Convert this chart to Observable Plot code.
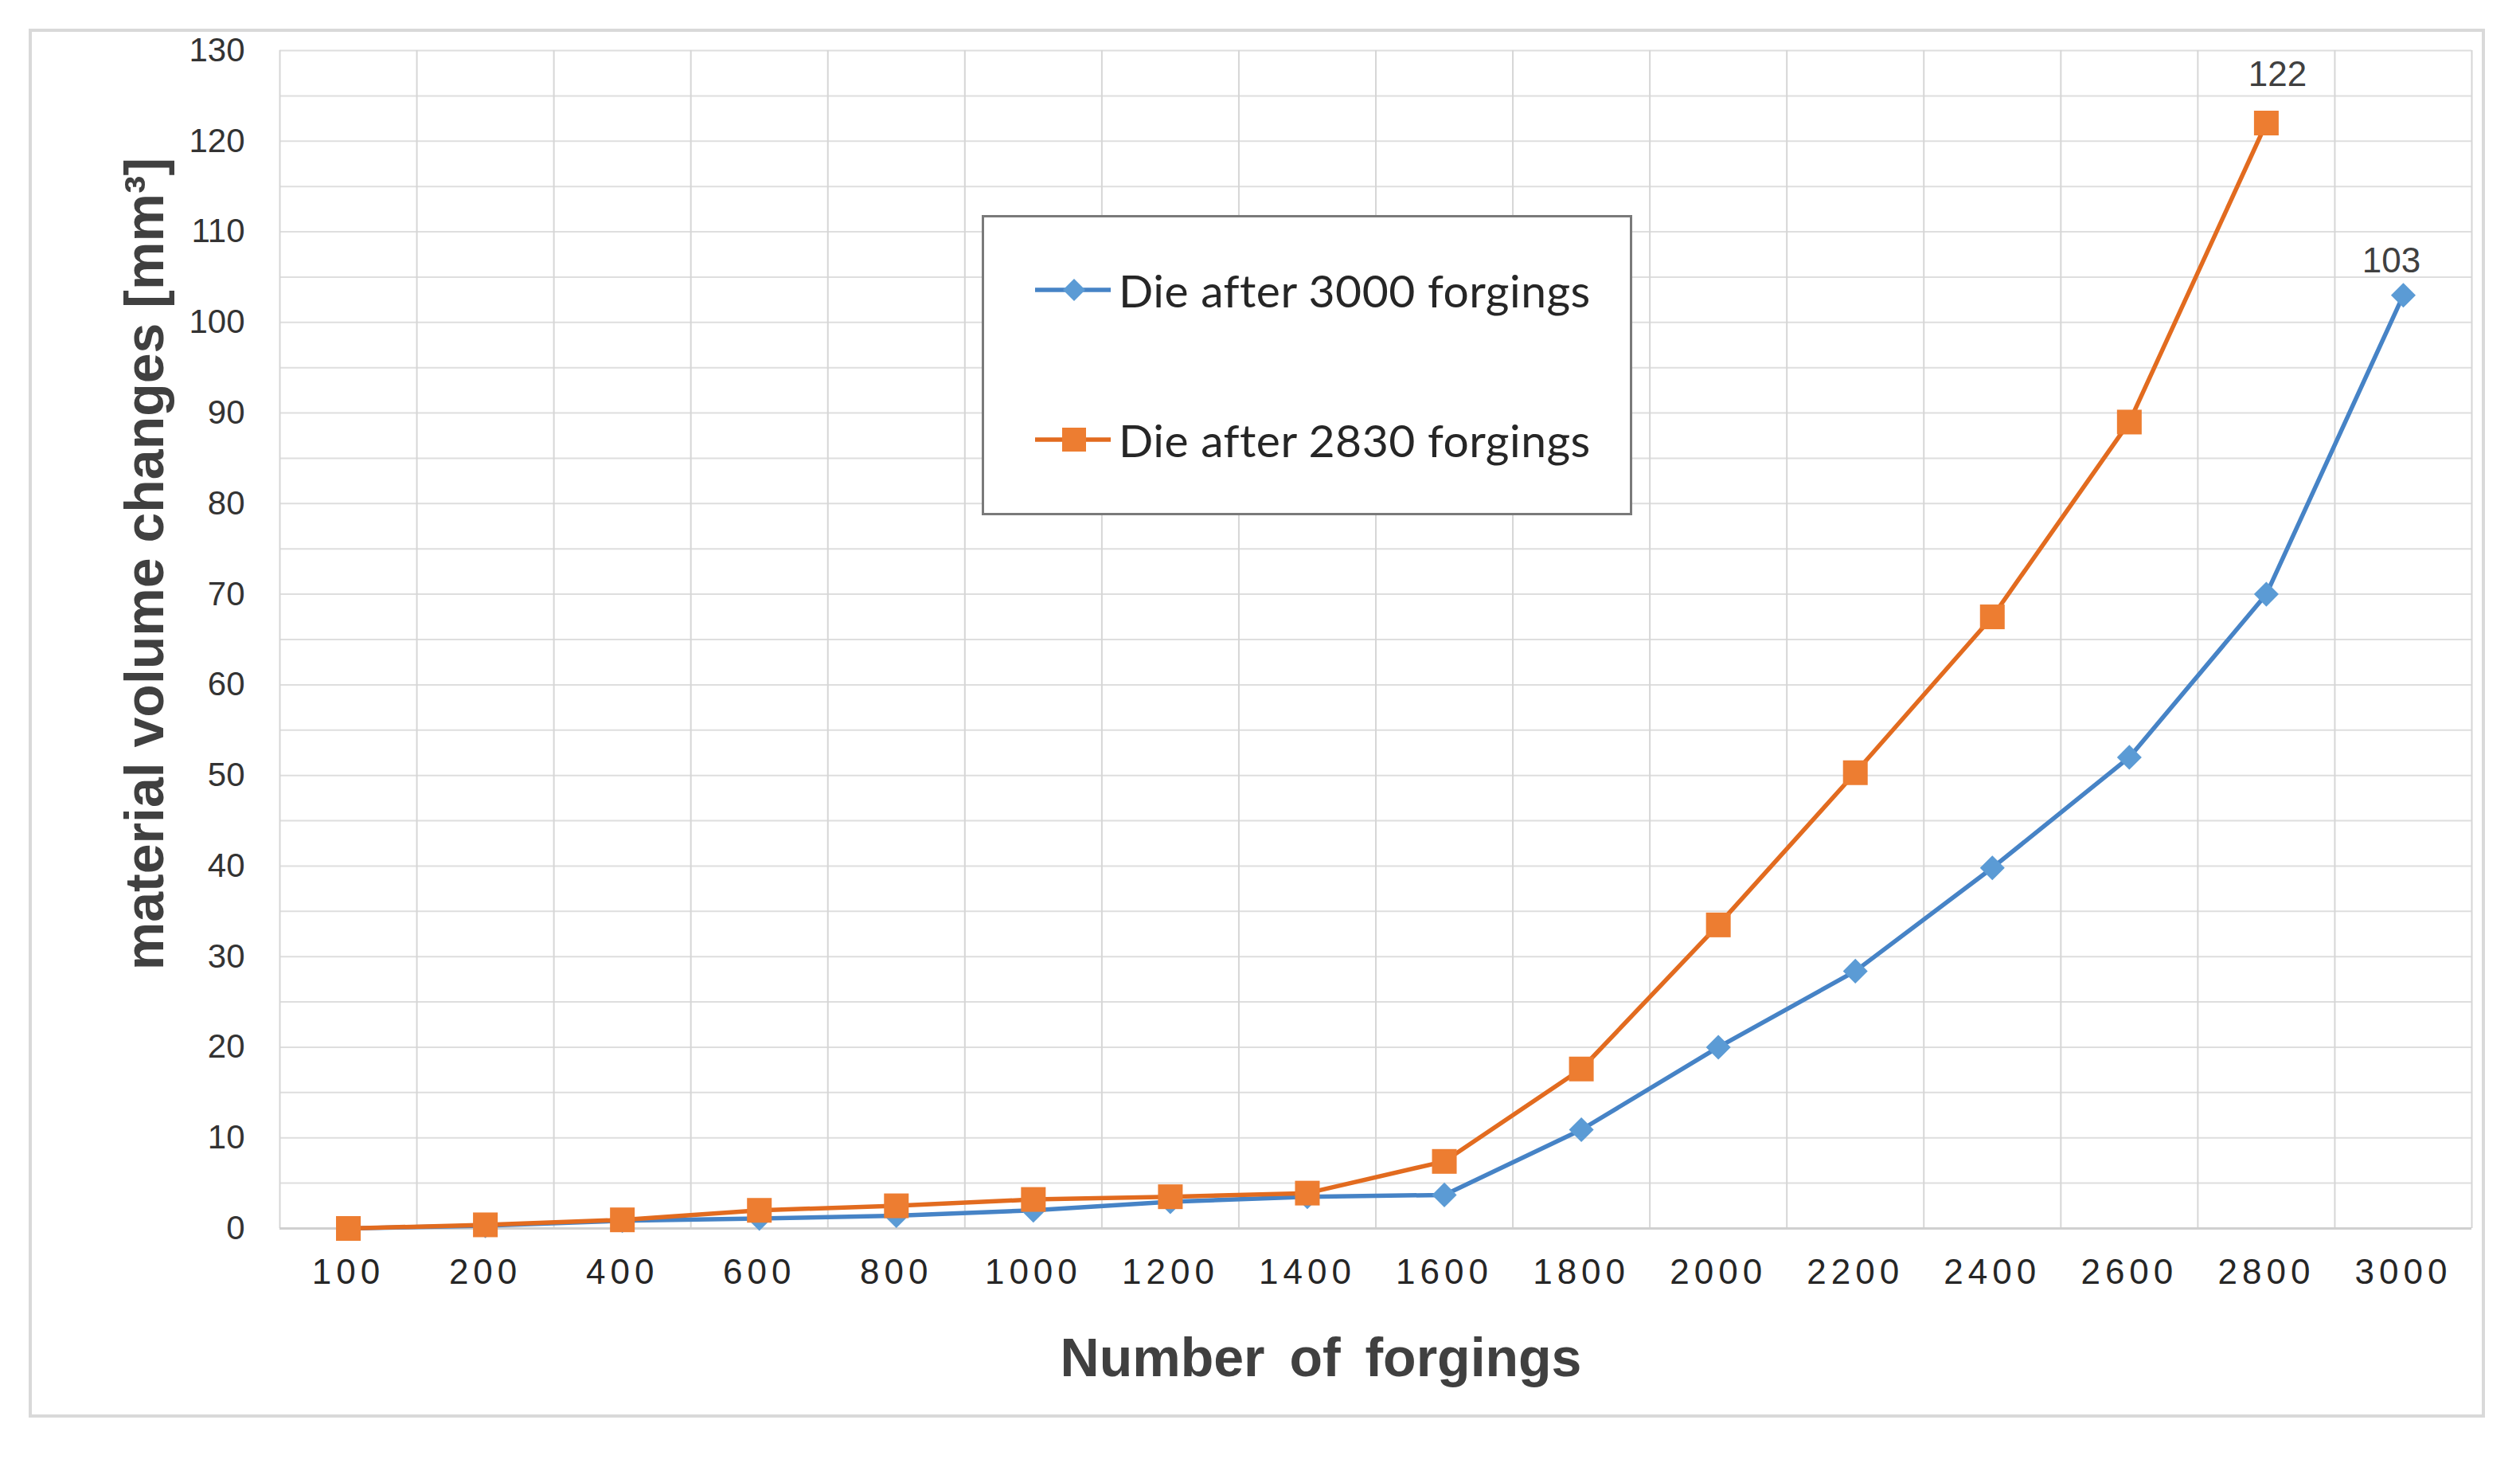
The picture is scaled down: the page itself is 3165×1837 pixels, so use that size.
<!DOCTYPE html>
<html>
<head>
<meta charset="utf-8">
<script src="https://cdn.jsdelivr.net/npm/d3@7"></script>
<script src="https://cdn.jsdelivr.net/npm/@observablehq/plot@0.6"></script>
<style>
  html, body { margin: 0; padding: 0; background: #ffffff; }
  #page { position: relative; width: 3165px; height: 1837px; overflow: hidden; background: #fff; }
  #frame { position: absolute; left: 36px; top: 36px; width: 3085px; height: 1744px; box-sizing: border-box;
           border: 4px solid #d9d9d9; }
  #chart { position: absolute; left: 0; top: 0; }
  #chart svg g[aria-label="x-axis tick label"] text { letter-spacing: 6px; }
  .title { position: absolute; font-family: "Liberation Sans", Arial, sans-serif; font-weight: bold; color: #404040; white-space: pre; line-height: 1; }
  #ytitle { left: 181px; top: 708px; font-size: 68px; transform: translate(-50%, -50%) rotate(-90deg); }
  #xtitle { left: 1659px; top: 1670px; font-size: 68px; transform: translateX(-50%); word-spacing: 12px; }
  #legend { position: absolute; left: 1233px; top: 270px; width: 817px; height: 377px; box-sizing: border-box;
            border: 3px solid #7a7a7a; background: #fff; }
  .entry { position: absolute; left: 64px; height: 60px; display: flex; align-items: center; }
  .entry span { font-family: Lato, "Open Sans", sans-serif; font-size: 57px; letter-spacing: 0.5px; color: #262626; margin-left: 10px; white-space: nowrap; }
</style>
</head>
<body>
<div id="page">
  <div id="frame"></div>
  <div id="chart"></div>
  <div id="ytitle" class="title">material volume changes [mm³]</div>
  <div id="xtitle" class="title">Number of forgings</div>
  <div id="legend"></div>
</div>
<script>
// ---- data ----
const categories = ["100","200","400","600","800","1000","1200","1400","1600","1800","2000","2200","2400","2600","2800","3000"];
const die3000 = [0, 0.3, 0.85, 1.1, 1.4, 2.0, 2.95, 3.5, 3.7, 10.9, 20.0, 28.4, 39.8, 52.0, 70.0, 103];
const die2830 = [0, 0.4, 0.95, 2.0, 2.5, 3.2, 3.5, 3.9, 7.4, 17.6, 33.5, 50.3, 67.5, 89.0, 122, null];
const seriesNames = ["Die after 3000 forgings", "Die after 2830 forgings"];
const yTickValues = d3.range(0, 131, 10);
const yGridValues = d3.range(0, 131, 5);

const lineColors = ["#4683c6", "#e26b1f"];
const markerColors = ["#5b9bd5", "#ed7d31"];

// ---- build tables ----
const toRows = (vals, s) => vals.map((v, i) => ({pos: i + 0.5, cat: categories[i], value: v, series: s}))
                                .filter(d => d.value != null);
const rows3000 = toRows(die3000, seriesNames[0]);
const rows2830 = toRows(die2830, seriesNames[1]);
const last3000 = [rows3000[rows3000.length - 1]];
const last2830 = [rows2830[rows2830.length - 1]];
const xTickPositions = categories.map((c, i) => i + 0.5);
const xBoundaries = d3.range(0, categories.length + 1);

const chart = Plot.plot({
  width: 3165,
  height: 1837,
  marginTop: 63,
  marginBottom: 295,
  marginLeft: 351,
  marginRight: 61,
  style: {background: "transparent", fontFamily: "'Liberation Sans', Arial, sans-serif", overflow: "visible"},
  x: {type: "linear", domain: [0, categories.length], nice: false},
  y: {domain: [0, 130], nice: false},
  marks: [
    Plot.gridY(yGridValues, {stroke: "#dedede", strokeOpacity: 1, strokeWidth: 2}),
    Plot.gridX(xBoundaries, {stroke: "#d6d6d6", strokeOpacity: 1, strokeWidth: 2}),
    Plot.ruleY([0], {stroke: "#d0d0d0", strokeWidth: 3}),
    Plot.axisY(yTickValues, {tickSize: 0, tickPadding: 44, fontSize: 42, fill: "#333", label: null}),
    Plot.axisX(xTickPositions, {tickSize: 0, tickPadding: 38, fontSize: 44, fill: "#262626", label: null,
      tickFormat: d => categories[Math.floor(d)]}),
    Plot.line(rows3000, {x: "pos", y: "value", stroke: lineColors[0], strokeWidth: 5.5}),
    Plot.dot(rows3000, {x: "pos", y: "value", symbol: "diamond2", r: 14, fill: markerColors[0], stroke: "none"}),
    Plot.line(rows2830, {x: "pos", y: "value", stroke: lineColors[1], strokeWidth: 5.5}),
    Plot.dot(rows2830, {x: "pos", y: "value", symbol: "square", r: 17.5, fill: markerColors[1], stroke: "none"}),
    Plot.text(last2830, {x: "pos", y: "value", text: d => String(d.value), dx: 14, dy: -61, fontSize: 44, fill: "#404040"}),
    Plot.text(last3000, {x: "pos", y: "value", text: d => String(d.value), dx: -15, dy: -43, fontSize: 44, fill: "#404040"})
  ]
});
document.getElementById("chart").appendChild(chart);

// ---- legend ----
const legend = document.getElementById("legend");
const entryTops = [61, 249];
const symbols = [
  '<polygon points="49,16 63,30 49,44 35,30" fill="' + markerColors[0] + '"/>',
  '<rect x="34" y="15" width="30" height="30" fill="' + markerColors[1] + '"/>'
];
seriesNames.forEach((name, i) => {
  const e = document.createElement("div");
  e.className = "entry";
  e.style.top = entryTops[i] + "px";
  e.innerHTML = '<svg width="95" height="60"><line x1="0" y1="30" x2="95" y2="30" stroke="' + lineColors[i] +
    '" stroke-width="5.5"/>' + symbols[i] + '</svg><span>' + name + '</span>';
  legend.appendChild(e);
});
</script>
</body>
</html>
